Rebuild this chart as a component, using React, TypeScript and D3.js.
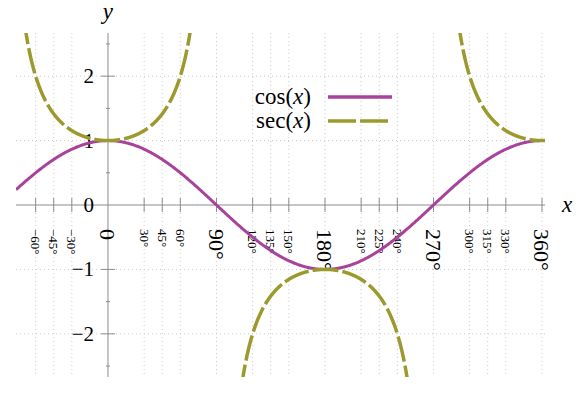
import * as React from "react";
import * as d3 from "d3";

// tick values in degrees
const smallDegTicks: number[] = [-60, -45, -30, 30, 45, 60, 120, 135, 150, 210, 225, 240, 300, 315, 330];
const bigDegTicks: number[] = [0, 90, 180, 270, 360];
const yMajorTicks: number[] = [-2, -1, 0, 1, 2];
const yMinorTicks: number[] = [-2.5, -1.5, -0.5, 0.5, 1.5, 2.5];
const yGrid: number[] = [-2, -1, 1, 2];

const xDomain: number[] = [-76.3, 362.5];
const yDomain: number[] = [-2.67, 2.67];

const legendItems: { label: string; color: string; dash: string }[] = [
  { label: "cos", color: "#a8429b", dash: "none" },
  { label: "sec", color: "#9c9a2e", dash: "26 4" }
];

const W = 583;
const H = 397;
const FONT = "'Liberation Serif', 'DejaVu Serif', serif";

export default function App(): JSX.Element {
  const ref = React.useRef<SVGSVGElement>(null);

  React.useEffect(() => {
    const svg = d3.select(ref.current);
    svg.selectAll("*").remove();

    const x = d3.scaleLinear().domain(xDomain).range([16, 545]);
    const y = d3.scaleLinear().domain(yDomain).range([377, 33]);
    const allDeg = smallDegTicks.concat(bigDegTicks).filter((d) => d !== 0);

    svg.append("defs").append("clipPath").attr("id", "plotclip")
      .append("rect")
      .attr("x", x(xDomain[0])).attr("y", y(yDomain[1]))
      .attr("width", x(xDomain[1]) - x(xDomain[0]))
      .attr("height", y(yDomain[0]) - y(yDomain[1]));

    // grid
    const grid = svg.append("g").attr("stroke", "#cccccc").attr("stroke-width", 1)
      .attr("stroke-dasharray", "1 3");
    grid.selectAll("line.v").data(allDeg).enter().append("line")
      .attr("x1", (d) => x(d)).attr("x2", (d) => x(d))
      .attr("y1", y(yDomain[1])).attr("y2", y(yDomain[0]));
    grid.selectAll("line.h").data(yGrid).enter().append("line")
      .attr("x1", x(xDomain[0])).attr("x2", x(xDomain[1]))
      .attr("y1", (d) => y(d)).attr("y2", (d) => y(d));

    // axes
    const axes = svg.append("g").attr("stroke", "#8c8c8c").attr("stroke-width", 1);
    axes.append("line").attr("x1", x(xDomain[0])).attr("x2", x(xDomain[1]))
      .attr("y1", y(0)).attr("y2", y(0));
    axes.append("line").attr("x1", x(0)).attr("x2", x(0))
      .attr("y1", y(yDomain[1])).attr("y2", y(yDomain[0]));
    axes.selectAll("line.xt").data(allDeg).enter().append("line")
      .attr("x1", (d) => x(d)).attr("x2", (d) => x(d))
      .attr("y1", y(0) - 7).attr("y2", y(0) + 7);
    axes.selectAll("line.yt").data(yMajorTicks.filter((d) => d !== 0)).enter().append("line")
      .attr("x1", x(0) - 7).attr("x2", x(0) + 7)
      .attr("y1", (d) => y(d)).attr("y2", (d) => y(d));
    axes.selectAll("line.ym").data(yMinorTicks).enter().append("line")
      .attr("x1", x(0) - 2).attr("x2", x(0) + 2)
      .attr("y1", (d) => y(d)).attr("y2", (d) => y(d));

    // x tick labels (rotated)
    const labY = y(0) + 24;
    svg.selectAll("text.sx").data(smallDegTicks).enter().append("text")
      .attr("transform", (d) => `translate(${x(d)},${labY}) rotate(90)`)
      .attr("dominant-baseline", "central")
      .attr("font-family", FONT).attr("font-size", 13)
      .text((d) => `${d < 0 ? "\u2212" : ""}${Math.abs(d)}\u00b0`);
    svg.selectAll("text.bx").data(bigDegTicks).enter().append("text")
      .attr("transform", (d) => `translate(${x(d)},${labY}) rotate(90)`)
      .attr("dominant-baseline", "central")
      .attr("font-family", FONT).attr("font-size", 22)
      .text((d) => (d === 0 ? "0" : `${d}\u00b0`));

    // y tick labels
    svg.selectAll("text.yl").data(yMajorTicks).enter().append("text")
      .attr("x", x(0) - 14)
      .attr("y", (d) => y(d) + 7)
      .attr("text-anchor", "end")
      .attr("font-family", FONT).attr("font-size", 21)
      .text((d) => (d < 0 ? `\u2212${-d}` : `${d}`));

    // axis names
    svg.append("text").attr("x", x(0)).attr("y", 19).attr("text-anchor", "middle")
      .attr("font-family", FONT).attr("font-style", "italic").attr("font-size", 23).text("y");
    svg.append("text").attr("x", 567).attr("y", y(0) + 7).attr("text-anchor", "middle")
      .attr("font-family", FONT).attr("font-style", "italic").attr("font-size", 23).text("x");

    // curves
    const rad = Math.PI / 180;
    const line = d3.line<number>()
      .defined((d) => isFinite(1 / Math.cos(d * rad)))
      .x((d) => x(d));
    const samples = d3.range(xDomain[0], xDomain[1] + 0.01, 0.5);
    const curves = svg.append("g").attr("clip-path", "url(#plotclip)").attr("fill", "none");
    curves.append("path").datum(samples)
      .attr("d", line.y((d) => y(Math.cos(d * rad))))
      .attr("stroke", legendItems[0].color).attr("stroke-width", 3);

    // sec branches, each split at the asymptotes
    const branches: number[][] = [[xDomain[0], 89.9], [90.1, 269.9], [270.1, xDomain[1]]];
    branches.forEach((b) => {
      const pts = d3.range(b[0], b[1], 0.25).concat([b[1]])
        .filter((d) => Math.abs(1 / Math.cos(d * rad)) < 2.9);
      curves.append("path").datum(pts)
        .attr("d", line.y((d) => y(1 / Math.cos(d * rad))))
        .attr("stroke", legendItems[1].color).attr("stroke-width", 3.5)
        .attr("stroke-dasharray", legendItems[1].dash);
    });

    // legend
    const lg = svg.append("g");
    legendItems.forEach((it, i) => {
      const ly = 97 + i * 24;
      const t = lg.append("text").attr("x", 311).attr("y", ly + 7).attr("text-anchor", "end")
        .attr("font-family", FONT).attr("font-size", 23);
      t.append("tspan").text(`${it.label}(`);
      t.append("tspan").attr("font-style", "italic").text("x");
      t.append("tspan").text(")");
      lg.append("line").attr("x1", 328).attr("x2", 392).attr("y1", ly).attr("y2", ly)
        .attr("stroke", it.color).attr("stroke-width", 3.5)
        .attr("stroke-dasharray", it.dash === "none" ? null : "28 4");
    });
  }, []);

  return (
    <svg ref={ref} width={W} height={H}
      style={{ position: "absolute", left: 0, top: 0, background: "#fff" }} />
  );
}
